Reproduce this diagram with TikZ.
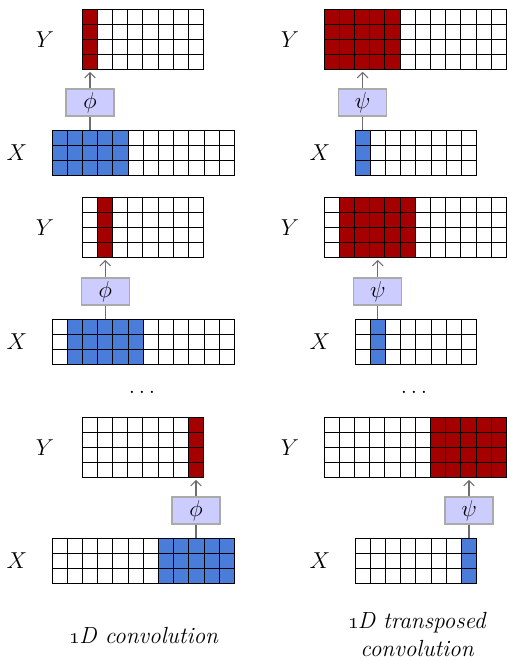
\documentclass[tikz,border=0pt]{standalone}
\usetikzlibrary{arrows.meta}
\definecolor{cellred}{RGB}{165,0,0}
\definecolor{cellblue}{RGB}{74,125,218}
\definecolor{boxfill}{RGB}{204,204,255}
\definecolor{boxdraw}{RGB}{170,170,170}
\definecolor{conncol}{RGB}{110,110,110}
\def\cs{15.2}
\newcommand{\mygrid}[7]{%
  \fill[#7] ({#1+(#5-1)*\cs},#2) rectangle ({#1+#6*\cs},{#2+#4*\cs});
  \foreach \i in {0,...,#3} \draw[gridline] ({#1+\i*\cs},#2) -- ({#1+\i*\cs},{#2+#4*\cs});
  \foreach \j in {0,...,#4} \draw[gridline] (#1,{#2+\j*\cs}) -- ({#1+#3*\cs},{#2+\j*\cs});
}
\newcommand{\oneD}{\oldstylenums{1}\kern-1pt D}
\tikzset{
  gridline/.style={line width=0.7pt, black},
  opbox/.style={draw=boxdraw, fill=boxfill, line width=0.8pt, minimum width=36pt, minimum height=20.25pt, inner sep=0pt, font=\fontsize{18}{20}\selectfont},
  lbl/.style={font=\fontsize{18}{20}\selectfont, inner sep=0pt},
  conn/.style={draw=conncol, line width=0.8pt},
  arr/.style={conn, -{Straight Barb[length=4pt,width=8pt]}},
  caption/.style={font=\fontsize{17.5}{21}\selectfont\itshape, align=center, inner sep=0pt}
}
\begin{document}
\begin{tikzpicture}[x=0.75pt,y=-0.75pt]
\useasboundingbox (0,0) rectangle (507,661);
% ---------- Panel 1 ----------
\mygrid{82}{9}{8}{4}{1}{1}{cellred}
\mygrid{52}{130}{12}{3}{1}{5}{cellblue}
\mygrid{324}{9}{12}{4}{1}{5}{cellred}
\mygrid{355}{130}{8}{3}{1}{1}{cellblue}
% ---------- Panel 2 ----------
\mygrid{82}{197}{8}{4}{2}{2}{cellred}
\mygrid{52}{319}{12}{3}{2}{6}{cellblue}
\mygrid{324}{197}{12}{4}{2}{6}{cellred}
\mygrid{355}{319}{8}{3}{2}{2}{cellblue}
% ---------- Panel 3 ----------
\mygrid{82}{417}{8}{4}{8}{8}{cellred}
\mygrid{52}{538}{12}{3}{8}{12}{cellblue}
\mygrid{324}{417}{12}{4}{8}{12}{cellred}
\mygrid{355}{538}{8}{3}{8}{8}{cellblue}
% labels
\node[lbl] (yl1) at (45,39.5) {$Y$};
\node[lbl] (xl1) at (17,153) {$X$};
\node[lbl] (yr1) at (290,39.5) {$Y$};
\node[lbl] (xr1) at (320,153) {$X$};
\node[lbl] (yl2) at (45,227.5) {$Y$};
\node[lbl] (xl2) at (17,341.5) {$X$};
\node[lbl] (yr2) at (290,227.5) {$Y$};
\node[lbl] (xr2) at (320,341.5) {$X$};
\node[lbl] (yl3) at (45,447.5) {$Y$};
\node[lbl] (xl3) at (17,560.5) {$X$};
\node[lbl] (yr3) at (290,447.5) {$Y$};
\node[lbl] (xr3) at (320,560.5) {$X$};
% dots
\node[lbl] (dl) at (142,392) {$\dots$};
\node[lbl] (dr) at (414,392) {$\dots$};
% connector end points
\coordinate (xa1) at (90,130);   \coordinate (ya1) at (90,69.8);
\coordinate (xa2) at (105.2,319); \coordinate (ya2) at (105.2,257.8);
\coordinate (xa3) at (196,538);  \coordinate (ya3) at (196,477.8);
\coordinate (xb1) at (362.6,130); \coordinate (yb1) at (362.6,69.8);
\coordinate (xb2) at (377.8,319); \coordinate (yb2) at (377.8,257.8);
\coordinate (xb3) at (469,538);  \coordinate (yb3) at (469,477.8);
% boxes
\node[opbox] (p1) at (90,102.5) {$\phi$};
\node[opbox] (p2) at (105.2,291.5) {$\phi$};
\node[opbox] (p3) at (196,510.5) {$\phi$};
\node[opbox] (q1) at (362.6,102.5) {$\psi$};
\node[opbox] (q2) at (377.8,291.5) {$\psi$};
\node[opbox] (q3) at (469,510.5) {$\psi$};
% connectors
\foreach \a/\b/\c in {xa1/p1/ya1, xa2/p2/ya2, xa3/p3/ya3, xb1/q1/yb1, xb2/q2/yb2, xb3/q3/yb3}{
  \draw[conn] (\a) -- (\b.south);
  \draw[arr] (\b.north) -- ([yshift=-1.5pt]\c);
}
% captions
\node[caption] (c1) at (144,636) {\oneD{} convolution};
\node[caption] (c2) at (417,635) {\oneD{} transposed\\convolution};
\end{tikzpicture}
\end{document}
